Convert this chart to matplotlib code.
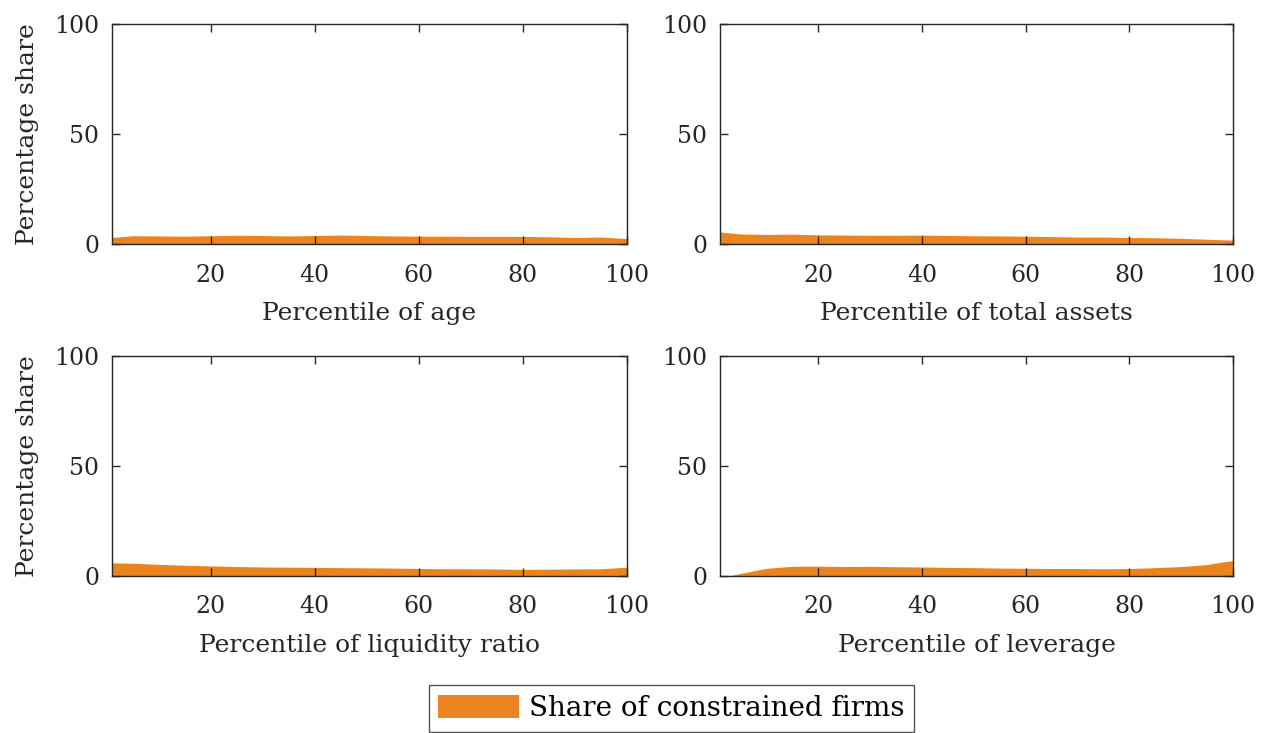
import numpy as np
import matplotlib.pyplot as plt
from matplotlib.patches import Patch

# percentile grid and share of constrained firms (%) per panel
age_x = [1, 5, 10, 15, 20, 25, 30, 35, 40, 45, 50, 55, 60, 65, 70, 75, 80, 85, 90, 95, 100]
age_y = [3.0, 3.8, 3.7, 3.6, 3.8, 4.0, 3.9, 3.7, 3.9, 4.1, 3.9, 3.7, 3.6, 3.6, 3.5, 3.5, 3.5, 3.3, 3.0, 3.2, 2.5]

assets_x = [1, 5, 10, 15, 20, 25, 30, 35, 40, 45, 50, 55, 60, 65, 70, 75, 80, 85, 90, 95, 100]
assets_y = [5.5, 4.6, 4.4, 4.5, 4.2, 4.1, 4.0, 4.0, 4.1, 3.9, 3.8, 3.7, 3.6, 3.4, 3.2, 3.2, 3.0, 2.9, 2.6, 2.2, 1.8]

liq_x = [1, 5, 10, 15, 20, 25, 30, 35, 40, 45, 50, 55, 60, 65, 70, 75, 80, 85, 90, 95, 100]
liq_y = [6.0, 5.8, 5.3, 4.9, 4.6, 4.3, 4.1, 4.0, 3.9, 3.8, 3.7, 3.6, 3.4, 3.3, 3.3, 3.2, 3.0, 3.1, 3.2, 3.3, 4.0]

lev_x = [1, 3, 5, 10, 15, 20, 25, 30, 35, 40, 45, 50, 55, 60, 65, 70, 75, 80, 85, 90, 95, 97, 100]
lev_y = [0.0, 0.2, 1.2, 3.5, 4.4, 4.5, 4.3, 4.4, 4.2, 4.1, 3.9, 3.8, 3.6, 3.5, 3.4, 3.4, 3.3, 3.4, 3.8, 4.3, 5.2, 6.0, 7.0]

xlabels = ["Percentile of age", "Percentile of total assets",
           "Percentile of liquidity ratio", "Percentile of leverage"]
xticks = [20, 40, 60, 80, 100]
yticks = [0, 50, 100]

orange = "#EB841F"
dark = "#262626"
plt.rcParams["font.family"] = ["DejaVu Serif"]

fig = plt.figure(figsize=(12.62, 7.33), dpi=100)
positions = [
    [0.0887, 0.667, 0.408, 0.300],
    [0.5705, 0.667, 0.4065, 0.300],
    [0.0887, 0.2142, 0.408, 0.300],
    [0.5705, 0.2142, 0.4065, 0.300],
]
data = [(age_x, age_y), (assets_x, assets_y), (liq_x, liq_y), (lev_x, lev_y)]

for i, (pos, (x, y)) in enumerate(zip(positions, data)):
    ax = fig.add_axes(pos)
    ax.fill_between(x, 0, y, color=orange, linewidth=0)
    ax.set_xlim(1, 100)
    ax.set_ylim(0, 100)
    ax.set_xticks(xticks)
    ax.set_yticks(yticks)
    ax.tick_params(direction="in", top=True, right=True, length=6, pad=9,
                   width=1, colors=dark, labelsize=17, labelcolor=dark)
    ax.tick_params(axis="x", pad=14)
    for s in ax.spines.values():
        s.set_color(dark)
        s.set_linewidth(1)
    ax.set_xlabel(xlabels[i], fontsize=18, color=dark, labelpad=11)
    if i % 2 == 0:
        ax.set_ylabel("Percentage share", fontsize=18, color=dark, labelpad=11)

leg = fig.legend(handles=[Patch(facecolor=orange, edgecolor="none", label="Share of constrained firms")],
                 loc="lower center", bbox_to_anchor=(0.532, 0.002), fontsize=20,
                 frameon=True, fancybox=False, handlelength=2.9, handleheight=0.9,
                 borderpad=0.35, handletextpad=0.35, borderaxespad=0)
leg.get_frame().set_edgecolor(dark)
leg.get_frame().set_linewidth(1)

fig.savefig("out.png", dpi=100)
